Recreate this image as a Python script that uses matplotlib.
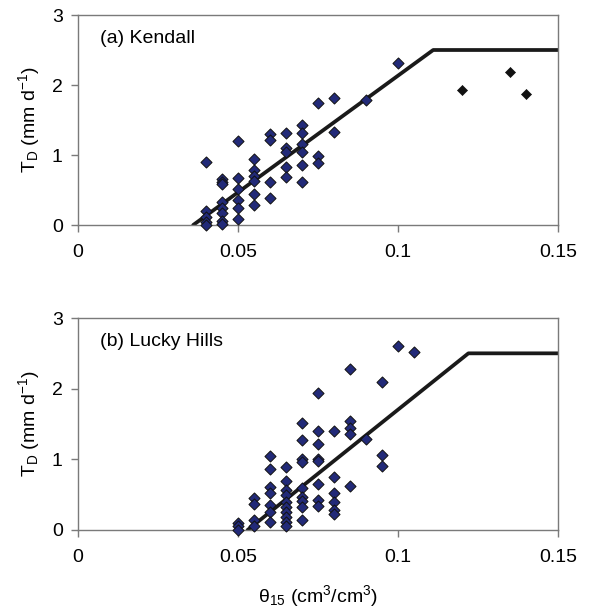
import numpy as np
import matplotlib
matplotlib.use('Agg')
import matplotlib.pyplot as plt

plt.rcParams['font.family'] = ['Liberation Sans', 'DejaVu Sans']
plt.rcParams['font.size'] = 14
plt.rcParams['mathtext.fontset'] = 'custom'
plt.rcParams['mathtext.rm'] = 'Liberation Sans'
plt.rcParams['mathtext.it'] = 'Liberation Sans'

# (a) Kendall: soil moisture at 15 cm vs transpiration
kendall_theta = [0.100, 0.090, 0.075, 0.080, 0.080,
                 0.070, 0.070, 0.070, 0.070, 0.070, 0.070,
                 0.075, 0.075,
                 0.065, 0.065, 0.065, 0.065, 0.065,
                 0.060, 0.060, 0.060, 0.060,
                 0.055, 0.055, 0.055, 0.055, 0.055, 0.055,
                 0.050, 0.050, 0.050, 0.050, 0.050, 0.050,
                 0.045, 0.045, 0.045, 0.045, 0.045, 0.045, 0.045, 0.045,
                 0.040, 0.040, 0.040, 0.040, 0.040]
kendall_td = [2.31, 1.79, 1.74, 1.81, 1.33,
              1.43, 1.31, 1.16, 1.04, 0.86, 0.61,
              0.98, 0.88,
              1.31, 1.10, 1.04, 0.83, 0.69,
              1.30, 1.21, 0.62, 0.39,
              0.95, 0.79, 0.70, 0.63, 0.45, 0.29,
              1.20, 0.67, 0.51, 0.36, 0.24, 0.08,
              0.66, 0.61, 0.58, 0.33, 0.25, 0.17, 0.06, 0.01,
              0.90, 0.20, 0.12, 0.04, 0.00]
kendall_wet_theta = [0.120, 0.135, 0.140]
kendall_wet_td = [1.93, 2.18, 1.87]
kendall_line_x = [0.036, 0.111, 0.15]
kendall_line_y = [0.0, 2.5, 2.5]

# (b) Lucky Hills
lucky_theta = [0.100, 0.105, 0.085, 0.095, 0.075, 0.090, 0.095, 0.095,
               0.085, 0.085, 0.085, 0.085,
               0.080, 0.080, 0.080, 0.080, 0.080, 0.080,
               0.075, 0.075, 0.075, 0.075, 0.075, 0.075, 0.075,
               0.070, 0.070, 0.070, 0.070, 0.070, 0.070, 0.070, 0.070, 0.070,
               0.065, 0.065, 0.065, 0.065, 0.065, 0.065, 0.065, 0.065,
               0.065, 0.065,
               0.060, 0.060, 0.060, 0.060, 0.060, 0.060, 0.060,
               0.055, 0.055, 0.055, 0.055,
               0.050, 0.050, 0.050]
lucky_td = [2.60, 2.52, 2.28, 2.10, 1.94, 1.29, 1.06, 0.91,
            1.54, 1.45, 1.36, 0.62,
            1.40, 0.75, 0.52, 0.40, 0.29, 0.23,
            1.40, 1.21, 1.01, 0.97, 0.65, 0.42, 0.34,
            1.52, 1.28, 1.00, 0.96, 0.59, 0.47, 0.41, 0.33, 0.14,
            0.89, 0.69, 0.57, 0.49, 0.40, 0.33, 0.26, 0.19,
            0.12, 0.05,
            1.05, 0.87, 0.61, 0.52, 0.35, 0.25, 0.12,
            0.45, 0.37, 0.14, 0.05,
            0.10, 0.05, 0.00]
lucky_line_x = [0.053, 0.122, 0.15]
lucky_line_y = [0.0, 2.5, 2.5]

SPINE = '#7a7a7a'
FILL = '#222a78'

fig = plt.figure(figsize=(5.89, 6.12), dpi=100)
ax_a = fig.add_axes([78 / 589, 1 - 225 / 612, 480 / 589, 210 / 612])
ax_b = fig.add_axes([78 / 589, 1 - 530 / 612, 480 / 589, 212 / 612])


def style(ax, label):
    ax.set_xlim(0, 0.15)
    ax.set_ylim(0, 3)
    ax.set_xticks([0, 0.05, 0.1, 0.15])
    ax.set_xticklabels(['0', '0.05', '0.1', '0.15'])
    ax.set_yticks([0, 1, 2, 3])
    for s in ax.spines.values():
        s.set_color(SPINE)
        s.set_linewidth(1.0)
    ax.tick_params(direction='out', length=5, width=1, color=SPINE,
                   labelsize=14, pad=6)
    ax.tick_params(axis='x', pad=9)
    ax.set_ylabel(r'T$_{\mathregular{D}}$ (mm d$^{\mathregular{-1}}$)',
                  fontsize=14, labelpad=7)
    ax.text(0.046, 0.89, label, transform=ax.transAxes, fontsize=14,
            va='center', ha='left')


# Kendall panel
ax_a.plot(kendall_line_x, kendall_line_y, color='#1a1a1a', lw=2.7,
          solid_capstyle='round', zorder=2)
ax_a.scatter(kendall_theta, kendall_td, marker='D', s=32, c=FILL,
             edgecolors='#111111', linewidths=0.7, zorder=3, clip_on=False)
ax_a.scatter(kendall_wet_theta, kendall_wet_td, marker='D', s=26,
             c='#111111', edgecolors='#111111', linewidths=0.5, zorder=3)
style(ax_a, '(a) Kendall')

# Lucky Hills panel
ax_b.plot(lucky_line_x, lucky_line_y, color='#1a1a1a', lw=2.7,
          solid_capstyle='round', zorder=2)
ax_b.scatter(lucky_theta, lucky_td, marker='D', s=32, c=FILL,
             edgecolors='#111111', linewidths=0.7, zorder=3, clip_on=False)
style(ax_b, '(b) Lucky Hills')
ax_b.set_xlabel(r'$\mathregular{\theta_{15}}$ (cm$^{\mathregular{3}}$/cm$^{\mathregular{3}}$)',
                fontsize=14, labelpad=12)

fig.savefig('out.png', dpi=100)
